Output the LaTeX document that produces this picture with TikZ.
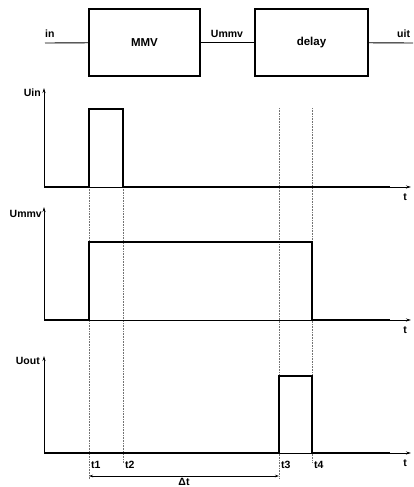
\documentclass[tikz,border=0pt]{standalone}
\usepackage{fontspec}
\setmainfont{Liberation Sans}
\usetikzlibrary{arrows.meta}
\tikzset{
	blk/.style={draw, line width=2.4pt, minimum width=111pt, minimum height=67pt, font=\fontsize{11.5}{13}\bfseries},
	lbl/.style={inner sep=1pt, font=\fontsize{10.5}{12}\bfseries},
	sig/.style={line width=2.6pt, line join=miter},
	ax/.style={line width=0.8pt, -{Stealth[length=5pt,width=3pt]}},
	guide/.style={densely dotted, line width=0.6pt, black!55}
}
\begin{document}
\begin{tikzpicture}[x=1pt, y=-1pt, every node/.style={inner sep=1pt}]
	\useasboundingbox (0,0) rectangle (413,487);
	\clip (0,0) rectangle (413,487);
%	block diagram
	\coordinate (inp) at (45,43);
	\coordinate (outp) at (414,43);
	\node[blk] (mmv) at (144.5,42.5) {MMV};
	\node[blk, minimum width=113pt] (delay) at (311.5,42.5) {delay};
	\draw[line width=0.9pt] (inp)--(mmv);
	\draw[line width=0.9pt] (mmv)--(delay);
	\draw[line width=0.9pt] (delay)--(outp);
	\node[lbl, anchor=south west] (lin) at (44,39) {in};
	\node[lbl, anchor=south] (lummv) at (227,39) {Ummv};
	\node[lbl, anchor=south west] (luit) at (396,39) {uit};
%	guide lines
	\draw[guide] (89,187)--(89,479);
	\draw[guide] (123,187)--(123,463);
	\draw[guide] (279,108)--(279,479);
	\draw[guide] (312,108)--(312,463);
%	axes
	\foreach \b/\top in {187/88, 320/207, 453/356}{
		\draw[ax] (44,\b)--(44,\top);
		\draw[ax] (44,\b)--(411,\b);
		\node[lbl] at (405,\b+10) {t};
	}
	\node[lbl, anchor=east] (luin) at (42,93) {Uin};
	\node[lbl, anchor=east] (lumv) at (43,214) {Ummv};
	\node[lbl, anchor=east] (luout) at (41,361) {Uout};
%	signals
	\draw[sig] (44,187)--(89,187)--(89,109)--(123,109)--(123,187)--(390,187);
	\draw[sig] (44,320)--(89,320)--(89,242)--(312,242)--(312,320)--(390,320);
	\draw[sig] (44,453)--(279,453)--(279,376)--(312,376)--(312,453)--(390,453);
%	time marks
	\node[lbl, anchor=west] (t1) at (90,465) {t1};
	\node[lbl, anchor=west] (t2) at (124,465) {t2};
	\node[lbl, anchor=west] (t3) at (280,465) {t3};
	\node[lbl, anchor=west] (t4) at (313,465) {t4};
	\draw[line width=0.6pt, {Stealth[length=4pt,width=2.5pt]}-{Stealth[length=4pt,width=2.5pt]}] (89,476)--(279,476);
	\node[lbl, anchor=south] (dt) at (184,487) {Δt};
\end{tikzpicture}
\end{document}
